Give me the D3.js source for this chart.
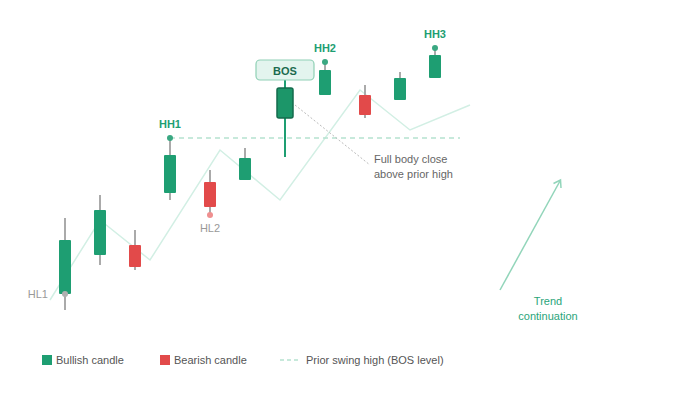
<!DOCTYPE html>
<html><head><meta charset="utf-8">
<script src="https://cdn.jsdelivr.net/npm/d3@7/dist/d3.min.js"></script>
<style>body{margin:0;background:#fff;}svg{display:block;font-family:"Liberation Sans",Arial,sans-serif;}</style>
</head><body>
<svg id="c" width="680" height="400"></svg>
<script>
// candle data: time, open, close, high, low
const times = [10,17,24,31,39,46,54,62,70,77,84];
const opens = [36,75,85,137,148,150,212,235,235,230,252];
const closes= [90,120,63,175,123,172,242,260,215,252,275];
const highs = [112,135,100,192,160,182,250,268,245,258,282];
const lows  = [20,65,60,130,115,150,173,235,212,230,252];
const bosIndex = 6;
// swing structure line
const swingT = [7,17,27,41,53,69,79,91];
const swingP = [30,110,70,180,130,240,200,225];
const bosLevel = 192;
const bosStart = 31, bosEnd = 89;
const swingLabels = [
  {i:0, text:"HL1", kind:"low"},
  {i:4, text:"HL2", kind:"low"},
  {i:3, text:"HH1", kind:"high"},
  {i:7, text:"HH2", kind:"high"},
  {i:10,text:"HH3", kind:"high"}
];
const legendItems = ["Bullish candle","Bearish candle","Prior swing high (BOS level)"];

const GREEN="#1e9e72", RED="#e24a4a", WICK="#aaaaaa";
const svg = d3.select("#c");
const x = d3.scaleLinear().domain([0,100]).range([15,515]);
const y = d3.scaleLinear().domain([0,300]).range([330,30]);

// swing line
svg.append("path")
  .attr("d", d3.line().x(d=>x(d[0])).y(d=>y(d[1]))(swingT.map((t,i)=>[t,swingP[i]])))
  .attr("fill","none").attr("stroke","#d2efe4").attr("stroke-width",1.5);

// BOS level
svg.append("line").attr("x1",x(bosStart)).attr("x2",x(bosEnd))
  .attr("y1",y(bosLevel)).attr("y2",y(bosLevel))
  .attr("stroke","#b5e2d0").attr("stroke-width",1.5).attr("stroke-dasharray","5,4");

// annotation leader line
const bx = x(times[bosIndex]);
svg.append("line").attr("x1",bx+10).attr("y1",y(225)).attr("x2",370).attr("y2",165)
  .attr("stroke","#bbbbbb").attr("stroke-width",1).attr("stroke-dasharray","2,2");

// candles
const g = svg.append("g");
times.forEach((t,i)=>{
  const bull = closes[i] >= opens[i];
  const isBos = i===bosIndex;
  const cx = x(t);
  const w = isBos ? 16 : 12;
  g.append("line").attr("x1",cx).attr("x2",cx).attr("y1",y(highs[i])).attr("y2",y(lows[i]))
    .attr("stroke", isBos ? GREEN : WICK).attr("stroke-width", 2);
  const top = y(Math.max(opens[i],closes[i])), bot = y(Math.min(opens[i],closes[i]));
  g.append("rect").attr("x",cx-w/2).attr("y",top).attr("width",w).attr("height",bot-top)
    .attr("rx", isBos?2:1)
    .attr("fill", bull ? (isBos?"#1c9669":GREEN) : RED)
    .attr("stroke", isBos ? "#136b4c" : "none").attr("stroke-width", isBos?1.5:0);
});

// BOS label
const bosG = svg.append("g");
bosG.append("rect").attr("x",bx-29).attr("y",60).attr("width",58).attr("height",20).attr("rx",4)
  .attr("fill","#e3f4ee").attr("stroke","#8fd0b5").attr("stroke-width",1.2);
bosG.append("text").attr("x",bx).attr("y",74.5).attr("text-anchor","middle")
  .attr("font-size",11).attr("font-weight","bold").attr("fill","#1b6b4f").text("BOS");

// swing labels + dots
swingLabels.forEach(s=>{
  const cx = x(times[s.i]);
  if(s.kind==="high"){
    const py = y(highs[s.i]);
    svg.append("circle").attr("cx",cx).attr("cy",py).attr("r",3).attr("fill","#3aa882");
    svg.append("text").attr("x",cx).attr("y",py-10).attr("text-anchor","middle")
      .attr("font-size",11).attr("font-weight","bold").attr("fill","#1e9e72").text(s.text);
  } else if(s.i===0){
    const py = y(opens[s.i]);
    svg.append("circle").attr("cx",cx).attr("cy",py).attr("r",3).attr("fill","#b0b0b0");
    svg.append("text").attr("x",cx-17).attr("y",py+4).attr("text-anchor","end")
      .attr("font-size",11).attr("fill","#999").text(s.text);
  } else {
    const py = y(lows[s.i]);
    svg.append("circle").attr("cx",cx).attr("cy",py).attr("r",3).attr("fill","#ef8f8f");
    svg.append("text").attr("x",cx).attr("y",py+17).attr("text-anchor","middle")
      .attr("font-size",11).attr("fill","#999").text(s.text);
  }
});

// annotation text
const ann = svg.append("text").attr("font-size",11).attr("fill","#666");
ann.append("tspan").attr("x",374).attr("y",163).text("Full body close");
ann.append("tspan").attr("x",374).attr("y",178).text("above prior high");

// trend arrow
svg.append("line").attr("x1",500).attr("y1",290).attr("x2",560).attr("y2",181)
  .attr("stroke","#92d5ba").attr("stroke-width",1.5);
svg.append("path").attr("d","M553.5,183.5 L560.5,180 L561,188")
  .attr("fill","none").attr("stroke","#92d5ba").attr("stroke-width",1.5);
const tr = svg.append("text").attr("font-size",11).attr("fill","#2aa57a").attr("text-anchor","middle");
tr.append("tspan").attr("x",548).attr("y",305).text("Trend");
tr.append("tspan").attr("x",548).attr("y",320).text("continuation");

// legend
const lg = svg.append("g").attr("font-size",11).attr("fill","#555");
lg.append("rect").attr("x",42).attr("y",355).attr("width",10).attr("height",10).attr("fill",GREEN);
lg.append("text").attr("x",56).attr("y",364).text(legendItems[0]);
lg.append("rect").attr("x",160).attr("y",355).attr("width",10).attr("height",10).attr("fill",RED);
lg.append("text").attr("x",174).attr("y",364).text(legendItems[1]);
lg.append("line").attr("x1",280).attr("x2",299).attr("y1",360).attr("y2",360)
  .attr("stroke","#b5e2d0").attr("stroke-width",1.5).attr("stroke-dasharray","4,3");
lg.append("text").attr("x",306).attr("y",364).text(legendItems[2]);
</script>
</body></html>
